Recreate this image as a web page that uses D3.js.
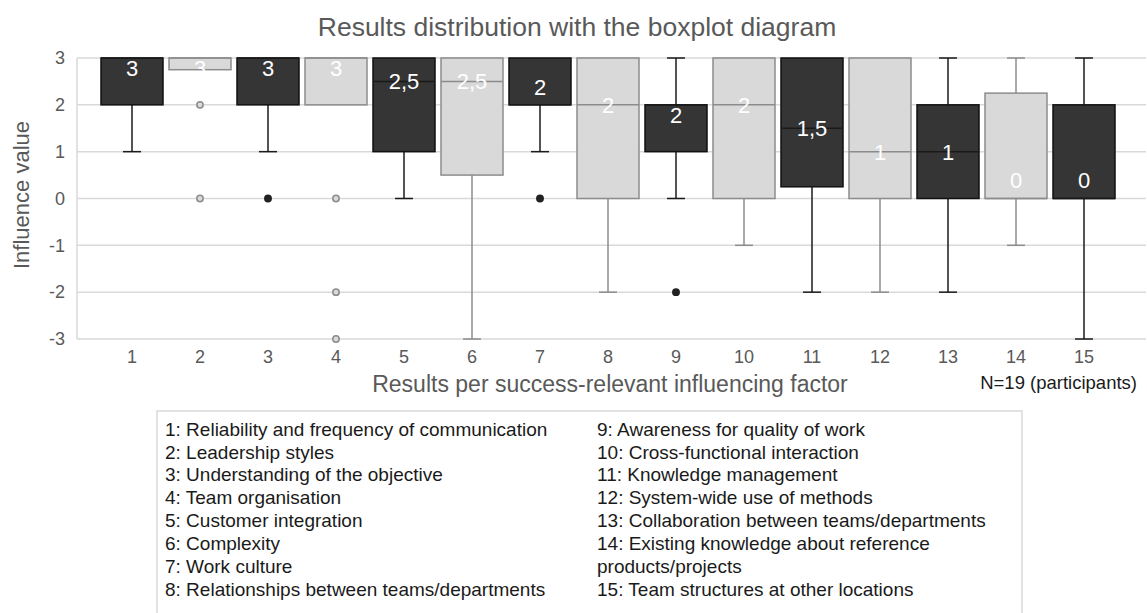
<!DOCTYPE html>
<html>
<head>
<meta charset="utf-8">
<script src="https://cdn.jsdelivr.net/npm/d3@7"></script>
<style>
  body { margin: 0; background: #fff; }
  svg { display: block; font-family: "Liberation Sans", Arial, sans-serif; }
</style>
</head>
<body>
<div id="chart"></div>
<script>
// factor numbers on the x axis
var factors = [1, 2, 3, 4, 5, 6, 7, 8, 9, 10, 11, 12, 13, 14, 15];

// box statistics
var q1s      = [2, 2.75, 2, 2, 1, 0.5, 2, 0, 1, 0, 0.25, 0, 0, 0, 0];
var medians  = [3, 3, 3, 3, 2.5, 2.5, 2, 2, 2, 2, 1.5, 1, 1, 0, 0];
var q3s      = [3, 3, 3, 3, 3, 3, 3, 3, 2, 3, 3, 3, 2, 2.25, 2];
var lowWhisk = [1, 2.75, 1, 2, 0, -3, 1, -2, 0, -1, -2, -2, -2, -1, -3];
var highWhisk= [3, 3, 3, 3, 3, 3, 3, 3, 3, 3, 3, 3, 3, 3, 3];
var outliers = [[], [2, 0], [0], [0, -2, -3], [], [], [0], [], [-2], [], [], [], [], [], []];

var yTicks = [3, 2, 1, 0, -1, -2, -3];

var legendLeft = [
  "1: Reliability and frequency of communication",
  "2: Leadership styles",
  "3: Understanding of the objective",
  "4: Team organisation",
  "5: Customer integration",
  "6: Complexity",
  "7: Work culture",
  "8: Relationships between teams/departments"
];
var legendRight = [
  "9: Awareness for quality of work",
  "10: Cross-functional interaction",
  "11: Knowledge management",
  "12: System-wide use of methods",
  "13: Collaboration between teams/departments",
  "14: Existing knowledge about reference",
  "products/projects",
  "15: Team structures at other locations"
];

var width = 1147, height = 613;
var plot = { left: 77, right: 1146, top: 58, bottom: 339 };

var svg = d3.select("#chart").append("svg")
    .attr("width", width)
    .attr("height", height);

var x = d3.scalePoint()
    .domain(factors)
    .range([132, 1084]);

var y = d3.scaleLinear()
    .domain([-3, 3])
    .range([plot.bottom, plot.top]);

var boxW = 62, capW = 18;
var dark = { fill: "#353535", stroke: "#111111", line: "#1a1a1a", text: "#ffffff" };
var light = { fill: "#d9d9d9", stroke: "#8c8c8c", line: "#8c8c8c", text: "#ffffff" };
function style(i) { return i % 2 === 0 ? dark : light; }
var fmt = function(v) { return d3.format("~g")(v).replace(".", ","); };

// title
svg.append("text")
    .attr("x", 577).attr("y", 36)
    .attr("text-anchor", "middle")
    .attr("fill", "#595959")
    .style("font-size", "26.5px")
    .text("Results distribution with the boxplot diagram");

// gridlines
svg.append("g").selectAll("line").data(yTicks).enter()
  .append("line")
    .attr("x1", plot.left).attr("x2", plot.right)
    .attr("y1", function(d) { return y(d); })
    .attr("y2", function(d) { return y(d); })
    .attr("stroke", "#d9d9d9")
    .attr("stroke-width", 1.5);

svg.append("line")
    .attr("x1", plot.left).attr("x2", plot.left)
    .attr("y1", plot.top).attr("y2", plot.bottom)
    .attr("stroke", "#d9d9d9")
    .attr("stroke-width", 1.5);

// y tick labels
svg.append("g").selectAll("text").data(yTicks).enter()
  .append("text")
    .attr("x", 65)
    .attr("y", function(d) { return y(d); })
    .attr("dy", "0.35em")
    .attr("text-anchor", "end")
    .attr("fill", "#595959")
    .style("font-size", "18px")
    .text(function(d) { return d; });

svg.append("text")
    .attr("transform", "translate(29," + 195 + ") rotate(-90)")
    .attr("text-anchor", "middle")
    .attr("fill", "#595959")
    .style("font-size", "22px")
    .text("Influence value");

// x tick labels
svg.append("g").selectAll("text").data(factors).enter()
  .append("text")
    .attr("x", function(d) { return x(d); })
    .attr("y", 363)
    .attr("text-anchor", "middle")
    .attr("fill", "#595959")
    .style("font-size", "18px")
    .text(function(d) { return d; });

svg.append("text")
    .attr("x", 610).attr("y", 392)
    .attr("text-anchor", "middle")
    .attr("fill", "#595959")
    .style("font-size", "23px")
    .text("Results per success-relevant influencing factor");

svg.append("text")
    .attr("x", 1137).attr("y", 389)
    .attr("text-anchor", "end")
    .attr("fill", "#1a1a1a")
    .style("font-size", "18.5px")
    .text("N=19 (participants)");

// boxes
var boxes = svg.append("g").selectAll("g").data(factors).enter()
  .append("g");

boxes.each(function(d, i) {
  var g = d3.select(this), s = style(i), cx = x(d);

  // whiskers
  if (lowWhisk[i] < q1s[i]) {
    g.append("line")
        .attr("x1", cx).attr("x2", cx)
        .attr("y1", y(q1s[i])).attr("y2", y(lowWhisk[i]))
        .attr("stroke", s.line).attr("stroke-width", 1.5);
    g.append("line")
        .attr("x1", cx - capW / 2).attr("x2", cx + capW / 2)
        .attr("y1", y(lowWhisk[i])).attr("y2", y(lowWhisk[i]))
        .attr("stroke", s.line).attr("stroke-width", 1.5);
  }
  if (highWhisk[i] > q3s[i]) {
    g.append("line")
        .attr("x1", cx).attr("x2", cx)
        .attr("y1", y(q3s[i])).attr("y2", y(highWhisk[i]))
        .attr("stroke", s.line).attr("stroke-width", 1.5);
    g.append("line")
        .attr("x1", cx - capW / 2).attr("x2", cx + capW / 2)
        .attr("y1", y(highWhisk[i])).attr("y2", y(highWhisk[i]))
        .attr("stroke", s.line).attr("stroke-width", 1.5);
  }

  g.append("rect")
      .attr("x", cx - boxW / 2)
      .attr("y", y(q3s[i]))
      .attr("width", boxW)
      .attr("height", y(q1s[i]) - y(q3s[i]))
      .attr("fill", s.fill)
      .attr("stroke", s.stroke)
      .attr("stroke-width", 1.5);

  g.append("line")
      .attr("x1", cx - boxW / 2).attr("x2", cx + boxW / 2)
      .attr("y1", y(medians[i])).attr("y2", y(medians[i]))
      .attr("stroke", s.line).attr("stroke-width", 1.5);

  g.selectAll("circle").data(outliers[i]).enter()
    .append("circle")
      .attr("cx", cx)
      .attr("cy", function(v) { return y(v); })
      .attr("r", 3.2)
      .attr("fill", i % 2 === 0 ? "#222" : "#d9d9d9")
      .attr("stroke", i % 2 === 0 ? "#222" : "#8c8c8c")
      .attr("stroke-width", 1.5);

  // median label kept inside the box
  var top = y(q3s[i]), bottom = y(q1s[i]);
  var ly = Math.max(top + 10, Math.min(bottom - 18, y(medians[i])));
  g.append("text")
      .attr("x", cx).attr("y", ly)
      .attr("dy", "0.36em")
      .attr("text-anchor", "middle")
      .attr("fill", s.text)
      .style("font-size", "22px")
      .text(fmt(medians[i]));
});

// legend
svg.append("rect")
    .attr("x", 157).attr("y", 411)
    .attr("width", 865).attr("height", 210)
    .attr("fill", "none")
    .attr("stroke", "#d9d9d9")
    .attr("stroke-width", 1.5);

function legendColumn(lines, lx) {
  svg.append("g").selectAll("text").data(lines).enter()
    .append("text")
      .attr("x", lx)
      .attr("y", function(d, i) { return 429 + i * 22.9; })
      .attr("dy", "0.35em")
      .attr("fill", "#1a1a1a")
      .style("font-size", "19px")
      .text(function(d) { return d; });
}
legendColumn(legendLeft, 165);
legendColumn(legendRight, 597);
</script>
</body>
</html>
